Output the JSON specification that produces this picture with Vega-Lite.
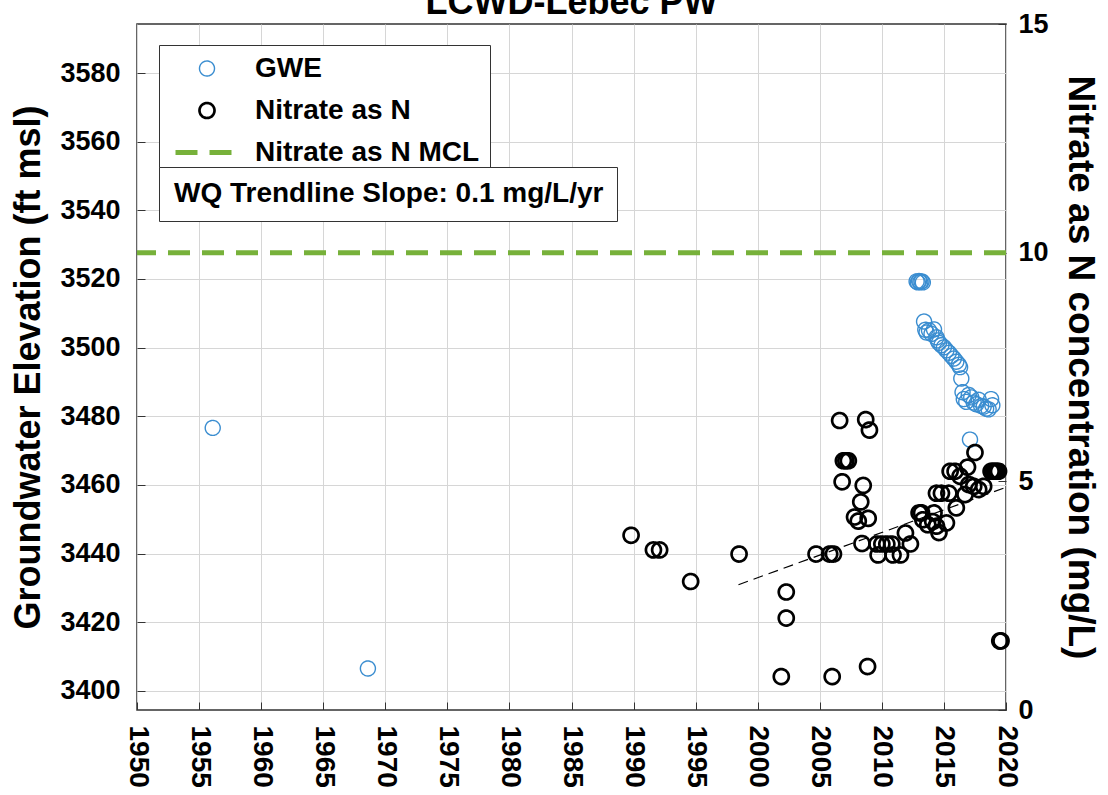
{
  "$schema": "https://vega.github.io/schema/vega-lite/v6.json",
  "width": 869,
  "height": 686,
  "autosize": {"type": "none"},
  "padding": {"left": 137, "top": 24, "right": 102, "bottom": 85},
  "background": "white",
  "title": {"text": "LCWD-Lebec PW", "fontSize": 36, "font": "Liberation Sans", "fontWeight": "bold", "color": "black", "anchor": "middle", "baseline": "alphabetic", "offset": -40},
  "config": {
    "view": {"stroke": "#333333", "strokeWidth": 1.5},
    "axis": {"labelFont": "Liberation Sans", "labelFontWeight": "bold", "labelColor": "black", "titleFont": "Liberation Sans", "titleFontWeight": "bold", "titleColor": "black", "domain": false, "gridColor": "#d6d6d6", "gridWidth": 1, "tickColor": "#333333", "tickSize": -8, "labelFontSize": 27, "titleFontSize": 36},
    "legend": {"labelFont": "Liberation Sans", "labelFontWeight": "bold", "labelColor": "black", "fillColor": "white", "strokeColor": "#333333", "labelLimit": 700}
  },
  "datasets": {
    "gwe": [
      {"year": 1956.1, "elev": 3476.6, "series": "GWE"},
      {"year": 1968.6, "elev": 3406.5, "series": "GWE"},
      {"year": 2012.8, "elev": 3519.3, "series": "GWE"},
      {"year": 2012.9, "elev": 3519.0, "series": "GWE"},
      {"year": 2013.0, "elev": 3519.4, "series": "GWE"},
      {"year": 2013.1, "elev": 3519.1, "series": "GWE"},
      {"year": 2013.2, "elev": 3519.3, "series": "GWE"},
      {"year": 2013.3, "elev": 3519.0, "series": "GWE"},
      {"year": 2013.4, "elev": 3507.6, "series": "GWE"},
      {"year": 2013.5, "elev": 3505.2, "series": "GWE"},
      {"year": 2013.6, "elev": 3504.4, "series": "GWE"},
      {"year": 2013.8, "elev": 3505.0, "series": "GWE"},
      {"year": 2014.0, "elev": 3504.0, "series": "GWE"},
      {"year": 2014.2, "elev": 3505.3, "series": "GWE"},
      {"year": 2014.4, "elev": 3503.0, "series": "GWE"},
      {"year": 2014.5, "elev": 3502.1, "series": "GWE"},
      {"year": 2014.6, "elev": 3501.4, "series": "GWE"},
      {"year": 2014.8, "elev": 3500.7, "series": "GWE"},
      {"year": 2015.0, "elev": 3500.1, "series": "GWE"},
      {"year": 2015.2, "elev": 3499.2, "series": "GWE"},
      {"year": 2015.4, "elev": 3498.5, "series": "GWE"},
      {"year": 2015.6, "elev": 3497.6, "series": "GWE"},
      {"year": 2015.8, "elev": 3496.8, "series": "GWE"},
      {"year": 2016.0, "elev": 3495.9, "series": "GWE"},
      {"year": 2016.2, "elev": 3495.0, "series": "GWE"},
      {"year": 2016.3, "elev": 3494.3, "series": "GWE"},
      {"year": 2016.4, "elev": 3491.0, "series": "GWE"},
      {"year": 2016.5, "elev": 3487.0, "series": "GWE"},
      {"year": 2016.6, "elev": 3485.0, "series": "GWE"},
      {"year": 2016.8, "elev": 3484.2, "series": "GWE"},
      {"year": 2017.0, "elev": 3486.2, "series": "GWE"},
      {"year": 2017.2, "elev": 3485.5, "series": "GWE"},
      {"year": 2017.4, "elev": 3484.0, "series": "GWE"},
      {"year": 2017.6, "elev": 3483.5, "series": "GWE"},
      {"year": 2017.8, "elev": 3484.8, "series": "GWE"},
      {"year": 2018.0, "elev": 3483.0, "series": "GWE"},
      {"year": 2018.2, "elev": 3482.8, "series": "GWE"},
      {"year": 2018.4, "elev": 3482.2, "series": "GWE"},
      {"year": 2018.6, "elev": 3482.0, "series": "GWE"},
      {"year": 2018.8, "elev": 3485.0, "series": "GWE"},
      {"year": 2018.9, "elev": 3483.2, "series": "GWE"},
      {"year": 2017.1, "elev": 3473.2, "series": "GWE"}
    ],
    "mcl": [
      {"n": 10, "series": "Nitrate as N MCL"}
    ],
    "nitrate": [
      {"year": 1989.8, "n": 3.82, "series": "Nitrate as N"},
      {"year": 1991.6, "n": 3.50, "series": "Nitrate as N"},
      {"year": 1992.1, "n": 3.50, "series": "Nitrate as N"},
      {"year": 1994.6, "n": 2.81, "series": "Nitrate as N"},
      {"year": 1998.5, "n": 3.41, "series": "Nitrate as N"},
      {"year": 2001.9, "n": 0.73, "series": "Nitrate as N"},
      {"year": 2002.3, "n": 2.58, "series": "Nitrate as N"},
      {"year": 2002.3, "n": 2.01, "series": "Nitrate as N"},
      {"year": 2004.7, "n": 3.41, "series": "Nitrate as N"},
      {"year": 2005.8, "n": 3.41, "series": "Nitrate as N"},
      {"year": 2006.1, "n": 3.41, "series": "Nitrate as N"},
      {"year": 2006.0, "n": 0.73, "series": "Nitrate as N"},
      {"year": 2006.6, "n": 6.33, "series": "Nitrate as N"},
      {"year": 2006.8, "n": 4.99, "series": "Nitrate as N"},
      {"year": 2006.9, "n": 5.45, "series": "Nitrate as N"},
      {"year": 2007.1, "n": 5.45, "series": "Nitrate as N"},
      {"year": 2007.3, "n": 5.45, "series": "Nitrate as N"},
      {"year": 2007.8, "n": 4.22, "series": "Nitrate as N"},
      {"year": 2008.1, "n": 4.13, "series": "Nitrate as N"},
      {"year": 2008.3, "n": 4.55, "series": "Nitrate as N"},
      {"year": 2008.4, "n": 3.64, "series": "Nitrate as N"},
      {"year": 2008.5, "n": 4.91, "series": "Nitrate as N"},
      {"year": 2008.7, "n": 6.35, "series": "Nitrate as N"},
      {"year": 2008.85, "n": 0.95, "series": "Nitrate as N"},
      {"year": 2008.9, "n": 4.19, "series": "Nitrate as N"},
      {"year": 2009.0, "n": 6.12, "series": "Nitrate as N"},
      {"year": 2009.6, "n": 3.63, "series": "Nitrate as N"},
      {"year": 2010.0, "n": 3.63, "series": "Nitrate as N"},
      {"year": 2010.4, "n": 3.63, "series": "Nitrate as N"},
      {"year": 2010.8, "n": 3.63, "series": "Nitrate as N"},
      {"year": 2009.7, "n": 3.39, "series": "Nitrate as N"},
      {"year": 2010.9, "n": 3.39, "series": "Nitrate as N"},
      {"year": 2011.5, "n": 3.39, "series": "Nitrate as N"},
      {"year": 2011.9, "n": 3.87, "series": "Nitrate as N"},
      {"year": 2012.3, "n": 3.63, "series": "Nitrate as N"},
      {"year": 2013.0, "n": 4.31, "series": "Nitrate as N"},
      {"year": 2013.2, "n": 4.31, "series": "Nitrate as N"},
      {"year": 2013.3, "n": 4.16, "series": "Nitrate as N"},
      {"year": 2013.7, "n": 4.05, "series": "Nitrate as N"},
      {"year": 2014.1, "n": 4.12, "series": "Nitrate as N"},
      {"year": 2014.4, "n": 4.02, "series": "Nitrate as N"},
      {"year": 2014.2, "n": 4.31, "series": "Nitrate as N"},
      {"year": 2014.6, "n": 3.88, "series": "Nitrate as N"},
      {"year": 2015.2, "n": 4.09, "series": "Nitrate as N"},
      {"year": 2014.4, "n": 4.74, "series": "Nitrate as N"},
      {"year": 2014.8, "n": 4.74, "series": "Nitrate as N"},
      {"year": 2015.4, "n": 4.74, "series": "Nitrate as N"},
      {"year": 2015.5, "n": 5.22, "series": "Nitrate as N"},
      {"year": 2015.9, "n": 5.22, "series": "Nitrate as N"},
      {"year": 2016.0, "n": 4.42, "series": "Nitrate as N"},
      {"year": 2016.3, "n": 5.11, "series": "Nitrate as N"},
      {"year": 2016.7, "n": 4.71, "series": "Nitrate as N"},
      {"year": 2016.9, "n": 5.31, "series": "Nitrate as N"},
      {"year": 2017.0, "n": 4.93, "series": "Nitrate as N"},
      {"year": 2017.4, "n": 4.89, "series": "Nitrate as N"},
      {"year": 2017.5, "n": 5.63, "series": "Nitrate as N"},
      {"year": 2017.8, "n": 4.82, "series": "Nitrate as N"},
      {"year": 2018.2, "n": 4.89, "series": "Nitrate as N"},
      {"year": 2018.8, "n": 5.22, "series": "Nitrate as N"},
      {"year": 2018.95, "n": 5.22, "series": "Nitrate as N"},
      {"year": 2019.1, "n": 5.22, "series": "Nitrate as N"},
      {"year": 2019.25, "n": 5.22, "series": "Nitrate as N"},
      {"year": 2019.4, "n": 5.22, "series": "Nitrate as N"},
      {"year": 2019.5, "n": 1.51, "series": "Nitrate as N"},
      {"year": 2019.6, "n": 1.51, "series": "Nitrate as N"}
    ],
    "trend": [
      {"year": 1998.45, "n": 2.74, "label": "WQ Trendline Slope: 0.1 mg/L/yr"},
      {"year": 2019.8, "n": 4.85, "label": "WQ Trendline Slope: 0.1 mg/L/yr"}
    ]
  },
  "layer": [
    {
      "data": {"name": "gwe"},
      "mark": {"type": "point", "filled": false, "opacity": 1},
      "encoding": {
        "x": {"field": "year", "type": "quantitative", "scale": {"domain": [1950, 2020], "nice": false, "zero": false},
              "axis": {"values": [1950, 1955, 1960, 1965, 1970, 1975, 1980, 1985, 1990, 1995, 2000, 2005, 2010, 2015, 2020], "format": "d", "labelAngle": 90, "labelFontSize": 28, "labelPadding": 23, "title": null, "grid": true, "labelFlush": false, "labelOverlap": false}},
        "y": {"field": "elev", "type": "quantitative", "scale": {"domain": [3394.4, 3594.3], "nice": false, "zero": false},
              "axis": {"orient": "left", "values": [3400, 3420, 3440, 3460, 3480, 3500, 3520, 3540, 3560, 3580], "format": "d", "title": "Groundwater Elevation (ft msl)", "grid": true, "labelPadding": 25, "titlePadding": 12}},
        "color": {"field": "series", "type": "nominal", "scale": {"domain": ["GWE", "Nitrate as N", "Nitrate as N MCL"], "range": ["#3a8dd0", "#000000", "#77b13a"]},
                  "legend": {"title": null, "orient": "none", "legendX": 22, "legendY": 21, "labelFontSize": 28, "padding": 10, "labelOffset": 14, "rowPadding": 13, "clipHeight": 27, "symbolOffset": 4}},
        "shape": {"field": "series", "type": "nominal", "scale": {"domain": ["GWE", "Nitrate as N", "Nitrate as N MCL"], "range": ["circle", "circle", "stroke"]},
                  "legend": {"title": null, "orient": "none", "legendX": 22, "legendY": 21, "labelFontSize": 28, "padding": 10, "labelOffset": 14, "rowPadding": 13, "clipHeight": 27, "symbolOffset": 4}},
        "size": {"field": "series", "type": "nominal", "scale": {"type": "ordinal", "domain": ["GWE", "Nitrate as N", "Nitrate as N MCL"], "range": [225, 225, 3969]},
                  "legend": {"title": null, "orient": "none", "legendX": 22, "legendY": 21, "labelFontSize": 28, "padding": 10, "labelOffset": 14, "rowPadding": 13, "clipHeight": 27, "symbolOffset": 4}},
        "strokeWidth": {"field": "series", "type": "nominal", "scale": {"type": "ordinal", "domain": ["GWE", "Nitrate as N", "Nitrate as N MCL"], "range": [1.4, 2.7, 5]},
                  "legend": {"title": null, "orient": "none", "legendX": 22, "legendY": 21, "labelFontSize": 28, "padding": 10, "labelOffset": 14, "rowPadding": 13, "clipHeight": 27, "symbolOffset": 4}},
        "strokeDash": {"field": "series", "type": "nominal", "scale": {"domain": ["GWE", "Nitrate as N", "Nitrate as N MCL"], "range": [[1, 0], [1, 0], [22, 12]]},
                  "legend": {"title": null, "orient": "none", "legendX": 22, "legendY": 21, "labelFontSize": 28, "padding": 10, "labelOffset": 14, "rowPadding": 13, "clipHeight": 27, "symbolOffset": 4}}
      }
    },
    {
      "layer": [
        {
          "data": {"name": "mcl"},
          "mark": {"type": "rule"},
          "encoding": {
            "y": {"field": "n", "type": "quantitative", "scale": {"domain": [0, 15], "nice": false}, "axis": {"orient": "right", "values": [0, 5, 10, 15], "title": "Nitrate as N concentration (mg/L)", "grid": false, "labelPadding": 20, "titlePadding": 12, "titleFontSize": 37}},
            "color": {"field": "series", "type": "nominal", "scale": {"domain": ["GWE", "Nitrate as N", "Nitrate as N MCL"], "range": ["#3a8dd0", "#000000", "#77b13a"]},
                      "legend": {"title": null, "orient": "none", "legendX": 22, "legendY": 21, "labelFontSize": 28, "padding": 10, "labelOffset": 14, "rowPadding": 13, "clipHeight": 27, "symbolOffset": 4}},
            "strokeWidth": {"field": "series", "type": "nominal", "scale": {"type": "ordinal", "domain": ["GWE", "Nitrate as N", "Nitrate as N MCL"], "range": [1.4, 2.7, 5]},
                      "legend": {"title": null, "orient": "none", "legendX": 22, "legendY": 21, "labelFontSize": 28, "padding": 10, "labelOffset": 14, "rowPadding": 13, "clipHeight": 27, "symbolOffset": 4}},
            "strokeDash": {"field": "series", "type": "nominal", "scale": {"domain": ["GWE", "Nitrate as N", "Nitrate as N MCL"], "range": [[1, 0], [1, 0], [22, 12]]},
                      "legend": {"title": null, "orient": "none", "legendX": 22, "legendY": 21, "labelFontSize": 28, "padding": 10, "labelOffset": 14, "rowPadding": 13, "clipHeight": 27, "symbolOffset": 4}}
          }
        },
        {
          "data": {"name": "nitrate"},
          "mark": {"type": "point", "filled": false, "opacity": 1},
          "encoding": {
            "x": {"field": "year", "type": "quantitative", "scale": {"domain": [1950, 2020], "nice": false, "zero": false}},
            "y": {"field": "n", "type": "quantitative", "scale": {"domain": [0, 15], "nice": false}, "axis": {"orient": "right", "values": [0, 5, 10, 15], "title": "Nitrate as N concentration (mg/L)", "grid": false, "labelPadding": 20, "titlePadding": 12, "titleFontSize": 37}},
            "color": {"field": "series", "type": "nominal", "scale": {"domain": ["GWE", "Nitrate as N", "Nitrate as N MCL"], "range": ["#3a8dd0", "#000000", "#77b13a"]},
                      "legend": {"title": null, "orient": "none", "legendX": 22, "legendY": 21, "labelFontSize": 28, "padding": 10, "labelOffset": 14, "rowPadding": 13, "clipHeight": 27, "symbolOffset": 4}},
            "shape": {"field": "series", "type": "nominal", "scale": {"domain": ["GWE", "Nitrate as N", "Nitrate as N MCL"], "range": ["circle", "circle", "stroke"]},
                      "legend": {"title": null, "orient": "none", "legendX": 22, "legendY": 21, "labelFontSize": 28, "padding": 10, "labelOffset": 14, "rowPadding": 13, "clipHeight": 27, "symbolOffset": 4}},
            "size": {"field": "series", "type": "nominal", "scale": {"type": "ordinal", "domain": ["GWE", "Nitrate as N", "Nitrate as N MCL"], "range": [225, 225, 3969]},
                      "legend": {"title": null, "orient": "none", "legendX": 22, "legendY": 21, "labelFontSize": 28, "padding": 10, "labelOffset": 14, "rowPadding": 13, "clipHeight": 27, "symbolOffset": 4}},
            "strokeWidth": {"field": "series", "type": "nominal", "scale": {"type": "ordinal", "domain": ["GWE", "Nitrate as N", "Nitrate as N MCL"], "range": [1.4, 2.7, 5]},
                      "legend": {"title": null, "orient": "none", "legendX": 22, "legendY": 21, "labelFontSize": 28, "padding": 10, "labelOffset": 14, "rowPadding": 13, "clipHeight": 27, "symbolOffset": 4}},
            "strokeDash": {"field": "series", "type": "nominal", "scale": {"domain": ["GWE", "Nitrate as N", "Nitrate as N MCL"], "range": [[1, 0], [1, 0], [22, 12]]},
                      "legend": {"title": null, "orient": "none", "legendX": 22, "legendY": 21, "labelFontSize": 28, "padding": 10, "labelOffset": 14, "rowPadding": 13, "clipHeight": 27, "symbolOffset": 4}}
          }
        },
        {
          "data": {"name": "trend"},
          "mark": {"type": "line", "color": "black", "strokeWidth": 1.2, "strokeDash": [10, 6]},
          "encoding": {
            "x": {"field": "year", "type": "quantitative", "scale": {"domain": [1950, 2020], "nice": false, "zero": false}},
            "y": {"field": "n", "type": "quantitative", "scale": {"domain": [0, 15], "nice": false}, "axis": {"orient": "right", "values": [0, 5, 10, 15], "title": "Nitrate as N concentration (mg/L)", "grid": false, "labelPadding": 20, "titlePadding": 12, "titleFontSize": 37}},
            "opacity": {"field": "label", "type": "nominal", "scale": {"range": [1, 1]},
                        "legend": {"title": null, "orient": "none", "legendX": 22, "legendY": 143, "labelFontSize": 28, "padding": 13, "labelOffset": -26, "symbolSize": 0, "symbolStrokeWidth": 0}}
          }
        }
      ]
    }
  ],
  "resolve": {"scale": {"y": "independent"}}
}
